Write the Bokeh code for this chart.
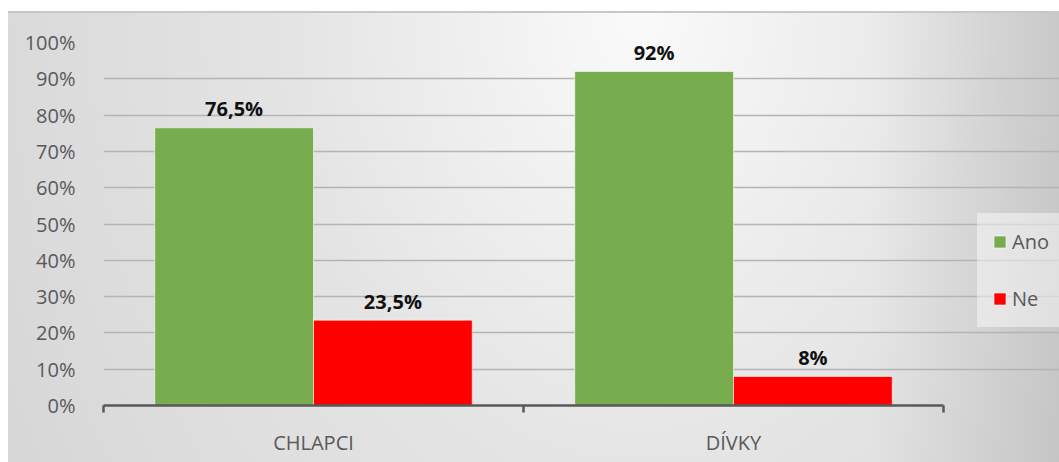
from bokeh.plotting import figure
from bokeh.models import FixedTicker, PrintfTickFormatter, Legend, LegendItem, ColumnDataSource, Range1d
from bokeh.transform import dodge
from bokeh.core.properties import value
from bokeh.embed import file_html
from bokeh.resources import INLINE

# ---- data ----
categories = ["CHLAPCI", "DÍVKY"]
series = ["Ano", "Ne"]
ano = [76.5, 92.0]
ne = [23.5, 8.0]
y_ticks = [0, 10, 20, 30, 40, 50, 60, 70, 80, 90, 100]
colors = ["#77AD4F", "#FF0000"]

FONT = "Open Sans"
GRAY = "#595959"

n = len(categories)
x_center = [i + 0.5 for i in range(n)]

def fmt(v):
    return f"{v:g}%".replace(".", ",")

src = ColumnDataSource(dict(
    x=x_center,
    ano=ano, ne=ne,
    ano_lbl=[fmt(v) for v in ano],
    ne_lbl=[fmt(v) for v in ne],
))

W, H = 1051, 451
LEFT = 95
CAT_PX = 420  # pixel width of one category
x_end = (W - LEFT) / CAT_PX

p = figure(width=W, height=H, output_backend="svg", toolbar_location=None,
           x_range=Range1d(0, x_end), y_range=Range1d(0, 100),
           min_border_left=LEFT, min_border_right=0, min_border_top=31, min_border_bottom=57)

p.styles = {
    "margin-top": "11px",
    "margin-left": "8px",
    "box-shadow": "inset 0 2px 0 0 #c8c8c8",
    "background": ("linear-gradient(to right, rgba(0,0,0,0) 82%, rgba(0,0,0,0.11) 100%), "
                   "radial-gradient(ellipse 80% 250% at 60% 0%, #fafafa 0%, #e4e4e4 42%, "
                   "#dadada 75%, #d0d0d0 100%)"),
}
p.border_fill_color = None
p.background_fill_color = None
p.outline_line_color = None

bw = 0.378
off = bw / 2
r_ano = p.vbar(x=dodge("x", -off, range=p.x_range), top="ano", width=bw, source=src,
               fill_color=colors[0], line_color="white", line_alpha=0.6, line_width=1)
r_ne = p.vbar(x=dodge("x", off, range=p.x_range), top="ne", width=bw, source=src,
              fill_color=colors[1], line_color="white", line_alpha=0.6, line_width=1)

for col, lbl, o in (("ano", "ano_lbl", -off), ("ne", "ne_lbl", off)):
    p.text(x=dodge("x", o, range=p.x_range), y=col, text=lbl, source=src,
           text_align="center", text_baseline="alphabetic", y_offset=-19,
           text_font=value(FONT), text_font_style="bold", text_font_size="20px",
           text_color="#111111")

# grid
p.xgrid.visible = False
p.ygrid.ticker = FixedTicker(ticks=y_ticks)
p.ygrid.bounds = (0, n)
p.ygrid.grid_line_color = "#b4b4b4"
p.ygrid.grid_line_width = 1.3

# y axis
p.yaxis.ticker = FixedTicker(ticks=y_ticks)
p.yaxis.formatter = PrintfTickFormatter(format="%d%%")
p.yaxis.axis_line_color = None
p.yaxis.major_tick_line_color = None
p.yaxis.minor_tick_line_color = None
p.yaxis.major_label_standoff = 22
p.yaxis.major_label_text_font = FONT
p.yaxis.major_label_text_font_size = "20px"
p.yaxis.major_label_text_color = GRAY

# x axis
p.xaxis.bounds = (0, n)
p.xaxis.ticker = FixedTicker(ticks=x_center, minor_ticks=list(range(n + 1)))
p.xaxis.major_label_overrides = {c: name for c, name in zip(x_center, categories)}
p.xaxis.axis_line_color = GRAY
p.xaxis.axis_line_width = 2.5
p.xaxis.major_tick_line_color = None
p.xaxis.major_tick_out = 0
p.xaxis.minor_tick_line_color = GRAY
p.xaxis.minor_tick_line_width = 2.5
p.xaxis.minor_tick_in = 0
p.xaxis.minor_tick_out = 7
p.xaxis.major_label_standoff = 16
p.xaxis.major_label_text_font = FONT
p.xaxis.major_label_text_font_size = "20px"
p.xaxis.major_label_text_color = GRAY

legend = Legend(items=[LegendItem(label=series[0], renderers=[r_ano]),
                       LegendItem(label=series[1], renderers=[r_ne])],
                location=(874, 78))
legend.background_fill_color = "white"
legend.background_fill_alpha = 0.45
legend.border_line_color = "white"
legend.border_line_alpha = 0.0
legend.glyph_width = 15
legend.glyph_height = 15
legend.label_standoff = 5
legend.spacing = 30
legend.padding = 15
legend.margin = 0
legend.label_text_font = FONT
legend.label_text_font_size = "20px"
legend.label_text_color = GRAY
p.add_layout(legend, "center")

open("out.html", "w").write(file_html(p, INLINE))
